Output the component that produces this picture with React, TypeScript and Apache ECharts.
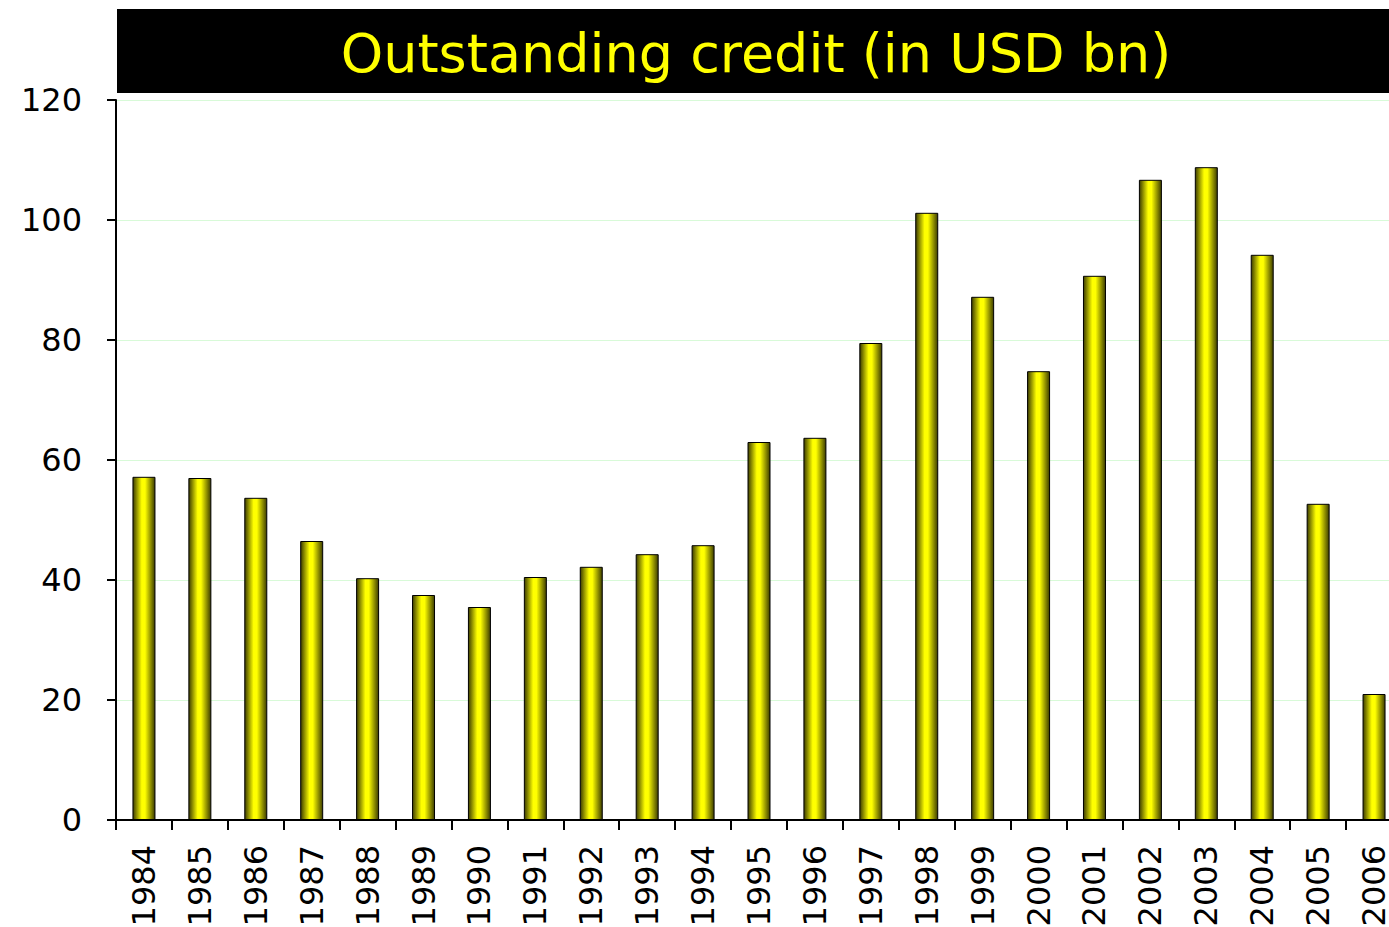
import React, { useEffect, useRef } from "react";
import * as echarts from "echarts";

const years = ["1984","1985","1986","1987","1988","1989","1990","1991","1992","1993","1994","1995","1996","1997","1998","1999","2000","2001","2002","2003","2004","2005","2006"];
const credit = [57.2,57.0,53.7,46.5,40.3,37.5,35.5,40.5,42.2,44.3,45.8,63.0,63.7,79.5,101.2,87.2,74.8,90.7,106.7,108.8,94.2,52.7,21.0];
const titleText = "Outstanding credit (in USD bn)";
const FONT = "Verdana, 'DejaVu Sans', sans-serif";

export default function App() {
  const ref = useRef<HTMLDivElement>(null);
  useEffect(() => {
    if (!ref.current) return;
    const chart = echarts.init(ref.current, null, { renderer: "svg" });
    chart.setOption({
      animation: false,
      backgroundColor: "#ffffff",
      graphic: [
        { type: "rect", left: 117, top: 9, shape: { width: 1272, height: 84 }, style: { fill: "#000000" }, z: 10 },
        {
          type: "text", x: 756, y: 53, z: 11,
          style: { text: titleText, fill: "#ffff00", font: `54px ${FONT}`, align: "center", verticalAlign: "middle" },
        },
      ],
      grid: { left: 116, top: 100, width: 1286, height: 720, containLabel: false, outerBoundsMode: "none" },
      xAxis: {
        type: "category",
        data: years,
        axisLine: { lineStyle: { color: "#000", width: 2 } },
        axisTick: { show: true, length: 10, inside: false, lineStyle: { color: "#000", width: 2 } },
        axisLabel: { rotate: 90, margin: 25, color: "#000", fontSize: 32, fontFamily: FONT, interval: 0 },
      },
      yAxis: {
        type: "value",
        min: 0, max: 120, interval: 20,
        axisLine: { show: true, lineStyle: { color: "#000", width: 2 } },
        axisTick: { show: true, length: 9, lineStyle: { color: "#000", width: 2 } },
        axisLabel: { margin: 34, color: "#000", fontSize: 32, fontFamily: FONT },
        splitLine: { show: true, lineStyle: { color: "#d8fad8", width: 1 } },
      },
      series: [
        {
          type: "bar",
          data: credit,
          barWidth: 23,
          itemStyle: {
            borderColor: "#000",
            borderWidth: 1,
            color: new echarts.graphic.LinearGradient(0, 0, 1, 0, [
              { offset: 0, color: "#3d3d00" },
              { offset: 0.4, color: "#ffff00" },
              { offset: 0.55, color: "#ffff00" },
              { offset: 1, color: "#3d3d00" },
            ]),
          },
        },
      ],
    });
    return () => chart.dispose();
  }, []);
  return <div ref={ref} style={{ position: "fixed", left: 0, top: 0, width: 1389, height: 927 }} />;
}
